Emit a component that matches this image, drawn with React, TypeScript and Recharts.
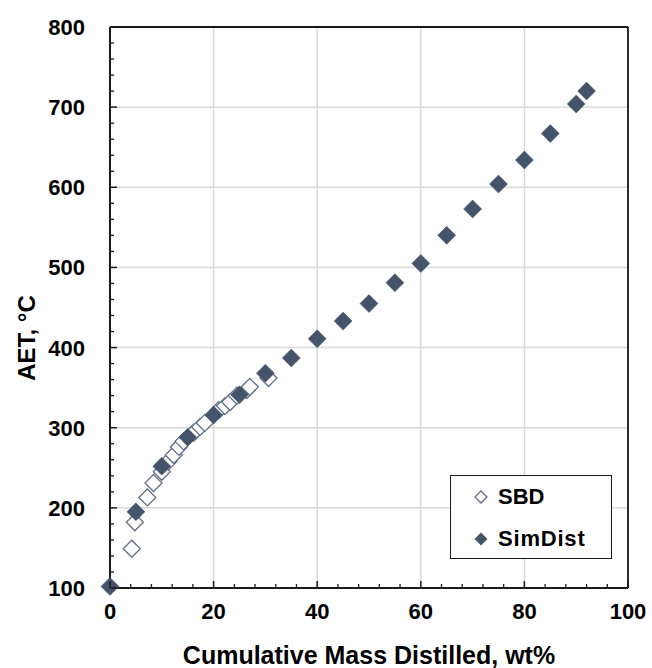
import React from 'react';
import { ScatterChart, Scatter, XAxis, YAxis, CartesianGrid, Legend } from 'recharts';

const sbdX = [4.2, 4.8, 7.2, 8.4, 10.0, 11.3, 12.3, 13.3, 14.2, 16.2, 17.4, 18.3, 21.0, 22.2, 23.2, 24.5, 26.4, 27.0, 30.6];
const sbdY = [149, 182, 213, 231, 245, 258, 266, 276, 283, 294, 301, 306, 322, 327, 332, 340, 347, 351, 362];

const simX = [0, 5, 10, 15, 20, 25, 30, 35, 40, 45, 50, 55, 60, 65, 70, 75, 80, 85, 90, 92];
const simY = [102, 195, 252, 288, 316, 341, 368, 387, 411, 433, 455, 481, 505, 540, 573, 604, 634, 667, 704, 720];

const xMajor = [0, 20, 40, 60, 80, 100];
const xTicks = [0, 4, 8, 12, 16, 20, 24, 28, 32, 36, 40, 44, 48, 52, 56, 60, 64, 68, 72, 76, 80, 84, 88, 92, 96, 100];
const yMajor = [100, 200, 300, 400, 500, 600, 700, 800];
const yTicks = [100, 120, 140, 160, 180, 200, 220, 240, 260, 280, 300, 320, 340, 360, 380, 400, 420, 440, 460, 480, 500, 520, 540, 560, 580, 600, 620, 640, 660, 680, 700, 720, 740, 760, 780, 800];

const sbdData = sbdX.map((x, i) => ({ x, y: sbdY[i] }));
const simData = simX.map((x, i) => ({ x, y: simY[i] }));

const FONT = '"Liberation Sans", Arial, sans-serif';
const AXIS = '#1a1a1a';
const NAVY = '#44546A';

const diamond = (cx: number, cy: number, r: number) =>
  `${cx},${cy - r} ${cx + r},${cy} ${cx},${cy + r} ${cx - r},${cy}`;

const FilledShape = (p: any) => (
  <polygon points={diamond(p.cx, p.cy, 9)} fill={NAVY} stroke={NAVY} strokeWidth={0.5} />
);
const HollowShape = (p: any) => (
  <polygon points={diamond(p.cx, p.cy, 8.5)} fill="#fff" stroke="#5f6f88" strokeWidth={1.3} />
);

const XTick = (p: any) => {
  const v = p.payload.value;
  const major = xMajor.includes(v);
  return (
    <g>
      <line x1={p.x} y1={p.y} x2={p.x} y2={p.y - (major ? 7 : 4)} stroke={AXIS} strokeWidth={major ? 1.5 : 1.3} />
      {major && (
        <text x={p.x} y={p.y + 31} textAnchor="middle" fontSize={22} fontWeight="bold" fontFamily={FONT} fill="#000">
          {v}
        </text>
      )}
    </g>
  );
};
const YTick = (p: any) => {
  const v = p.payload.value;
  const major = yMajor.includes(v);
  return (
    <g>
      <line x1={p.x} y1={p.y} x2={p.x + (major ? 7 : 4)} y2={p.y} stroke={AXIS} strokeWidth={major ? 1.5 : 1.3} />
      {major && (
        <text x={p.x - 25} y={p.y + 8} textAnchor="end" fontSize={22} fontWeight="bold" fontFamily={FONT} fill="#000">
          {v}
        </text>
      )}
    </g>
  );
};

const LegendContent = (props: any) => {
  const items = (props.payload || []) as any[];
  return (
    <div
      style={{
        width: 162,
        height: 84,
        border: `1.8px solid ${AXIS}`,
        background: '#fff',
        boxSizing: 'border-box',
        fontFamily: FONT,
        fontWeight: 'bold',
        fontSize: 22,
        color: '#000',
        position: 'relative',
      }}
    >
      {items.map((it, i) => (
        <div key={i} style={{ position: 'absolute', left: 22, top: 6 + i * 42, height: 30, display: 'flex', alignItems: 'center' }}>
          <svg width={16} height={16} style={{ marginRight: 9 }}>
            {it.value === 'SBD' ? (
              <polygon points={diamond(8, 8, 6)} fill="#fff" stroke="#5f6f88" strokeWidth={1.3} />
            ) : (
              <polygon points={diamond(8, 8, 6.5)} fill={NAVY} />
            )}
          </svg>
          <span style={{ letterSpacing: it.value === 'SBD' ? 0 : 0.8 }}>{it.value}</span>
        </div>
      ))}
    </div>
  );
};

export default function App() {
  return (
    <div style={{ position: 'absolute', left: 0, top: 0, width: 652, height: 668, background: '#fff' }}>
      <ScatterChart width={652} height={668} margin={{ top: 26, right: 23, bottom: 79, left: 109 }}>
        <CartesianGrid xAxisId="x" yAxisId="y" stroke="#d9d9d9" strokeWidth={1.5}
          verticalValues={xMajor} horizontalValues={yMajor} />
        <XAxis xAxisId="x" type="number" dataKey="x" domain={[0, 100]} ticks={xTicks} interval={0}
          height={1} tickSize={0} tickMargin={0} tickLine={false}
          axisLine={{ stroke: AXIS, strokeWidth: 2 }} tick={<XTick />}
          label={{ value: 'Cumulative Mass Distilled, wt%', position: 'insideBottom', offset: -75, fontSize: 25, fontWeight: 'bold', fontFamily: FONT, fill: '#000' }} />
        <XAxis xAxisId="xt" orientation="top" type="number" domain={[0, 100]} height={1} tick={false} tickLine={false}
          axisLine={{ stroke: AXIS, strokeWidth: 1.8 }} />
        <YAxis yAxisId="y" type="number" dataKey="y" domain={[100, 800]} ticks={yTicks} interval={0}
          width={1} tickSize={0} tickMargin={0} tickLine={false}
          axisLine={{ stroke: AXIS, strokeWidth: 2 }} tick={<YTick />} />
        <YAxis yAxisId="yr" orientation="right" type="number" domain={[100, 800]} width={1} tick={false} tickLine={false}
          axisLine={{ stroke: AXIS, strokeWidth: 1.8 }} />
        <Legend layout="vertical" align="center" verticalAlign="middle" content={<LegendContent />}
          wrapperStyle={{ position: 'absolute', left: 450, top: 475, width: 162, height: 84 }} />
        <Scatter name="SBD" data={sbdData} xAxisId="x" yAxisId="y" shape={<HollowShape />} fill="#fff" isAnimationActive={false} />
        <Scatter name="SimDist" data={simData} xAxisId="x" yAxisId="y" shape={<FilledShape />} fill={NAVY} isAnimationActive={false} />
      </ScatterChart>
      <div
        style={{
          position: 'absolute',
          left: 27,
          top: 338,
          transform: 'translate(-50%, -50%) rotate(-90deg)',
          fontFamily: FONT,
          fontWeight: 'bold',
          fontSize: 24,
          whiteSpace: 'nowrap',
          color: '#000',
        }}
      >
        AET, °C
      </div>
    </div>
  );
}
